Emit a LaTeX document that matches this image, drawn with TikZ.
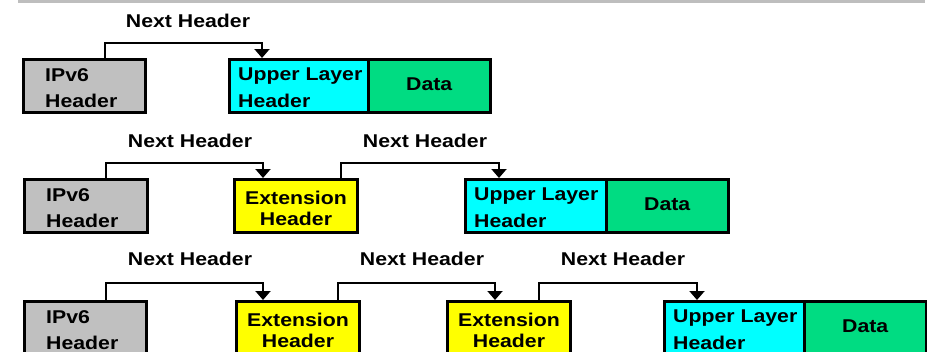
\documentclass[tikz,border=0pt]{standalone}
\usepackage{fontspec}
\setmainfont{Liberation Sans}[FakeStretch=1.15]
\usetikzlibrary{arrows.meta}

\definecolor{ipgray}{HTML}{C0C0C0}
\definecolor{extyellow}{HTML}{FFFF00}
\definecolor{ulcyan}{HTML}{00FFFF}
\definecolor{datagreen}{HTML}{00DC82}
\definecolor{rulegray}{HTML}{BEBEBE}

\tikzset{
  box/.style={draw=black, line width=3pt, inner sep=0pt, outer sep=1.5pt,
    anchor=north west, minimum height=53pt},
  ipv6/.style={box, fill=ipgray},
  ext/.style={box, fill=extyellow},
  upper/.style={box, fill=ulcyan},
  data/.style={box, fill=datagreen},
  txt/.style={font=\fontsize{18.5}{22}\selectfont\bfseries, inner sep=0pt, text=black},
  conn/.style={line width=2pt, -{Triangle[width=15pt,length=9pt]}},
  topline/.style={draw=rulegray, line width=2.5pt},
}

% IPv6 header box: name, outer top-left corner, path width
\newcommand\ipbox[3]{%
  \node[ipv6, minimum width=#3] (#1) at (#2) {};
  \node[txt, anchor=base west] (#1-a) at ([shift={(23pt,-23pt)}]#1.north west) {IPv6};
  \node[txt, anchor=base west] (#1-b) at ([shift={(23pt,-49.5pt)}]#1.north west) {Header};}
% extension header box
\newcommand\extbox[3]{%
  \node[ext, minimum width=#3] (#1) at (#2) {};
  \node[txt, anchor=base] (#1-a) at ([yshift=-26pt]#1.north) {Extension};
  \node[txt, anchor=base] (#1-b) at ([yshift=-47pt]#1.north) {Header};}
% upper layer header box
\newcommand\ulbox[3]{%
  \node[upper, minimum width=#3] (#1) at (#2) {};
  \node[txt, anchor=base west] (#1-a) at ([shift={(10pt,-22.5pt)}]#1.north west) {Upper Layer};
  \node[txt, anchor=base west] (#1-b) at ([shift={(10pt,-49pt)}]#1.north west) {Header};}
% payload box
\newcommand\databox[3]{%
  \node[data, minimum width=#3] (#1) at (#2) {};
  \node[txt, anchor=base] (#1-a) at ([yshift=-32pt]#1.north) {Data};}

\begin{document}
\begin{tikzpicture}[x=1pt, y=-1pt]
  \useasboundingbox (0,0) rectangle (927,351);
  \clip (0,0) rectangle (927,351);

  \draw[topline] (18,1.5) -- (925,1.5);

  % --- IPv6 header followed directly by the upper layer header
  \ipbox{ipA}{22,58}{122pt}
  \ulbox{ulA}{228,58}{138.5pt}
  \databox{dA}{366.5,58}{122.5pt}
  \node[txt, anchor=base] (nhA) at (188,27) {Next Header};
  \draw[conn] ([xshift=83pt]ipA.north west) -- ++(0,15pt) -| ([xshift=34pt]ulA.north west);

  % --- one extension header
  \ipbox{ipB}{23,178}{123pt}
  \extbox{exB}{233,178}{123pt}
  \ulbox{ulB}{464,178}{140.5pt}
  \databox{dB}{604.5,178}{122.5pt}
  \node[txt, anchor=base] (nhB1) at (190,147) {Next Header};
  \node[txt, anchor=base] (nhB2) at (425,147) {Next Header};
  \draw[conn] ([xshift=83pt]ipB.north west) -- ++(0,15pt) -| ([xshift=30pt]exB.north west);
  \draw[conn] ([xshift=108pt]exB.north west) -- ++(0,15pt) -| ([xshift=35pt]ulB.north west);

  % --- two extension headers
  \ipbox{ipC}{23,300}{122pt}
  \extbox{exC}{235,300}{123pt}
  \extbox{exD}{446,300}{123pt}
  \ulbox{ulC}{663,300}{139.5pt}
  \databox{dC}{802.5,300}{122.5pt}
  \node[txt, anchor=base] (nhC1) at (190,265) {Next Header};
  \node[txt, anchor=base] (nhC2) at (422,265) {Next Header};
  \node[txt, anchor=base] (nhC3) at (623,265) {Next Header};
  \draw[conn] ([xshift=83pt]ipC.north west) -- ++(0,17pt) -| ([xshift=28pt]exC.north west);
  \draw[conn] ([xshift=103pt]exC.north west) -- ++(0,17pt) -| ([xshift=49pt]exD.north west);
  \draw[conn] ([xshift=93pt]exD.north west) -- ++(0,17pt) -| ([xshift=34pt]ulC.north west);
\end{tikzpicture}
\end{document}
